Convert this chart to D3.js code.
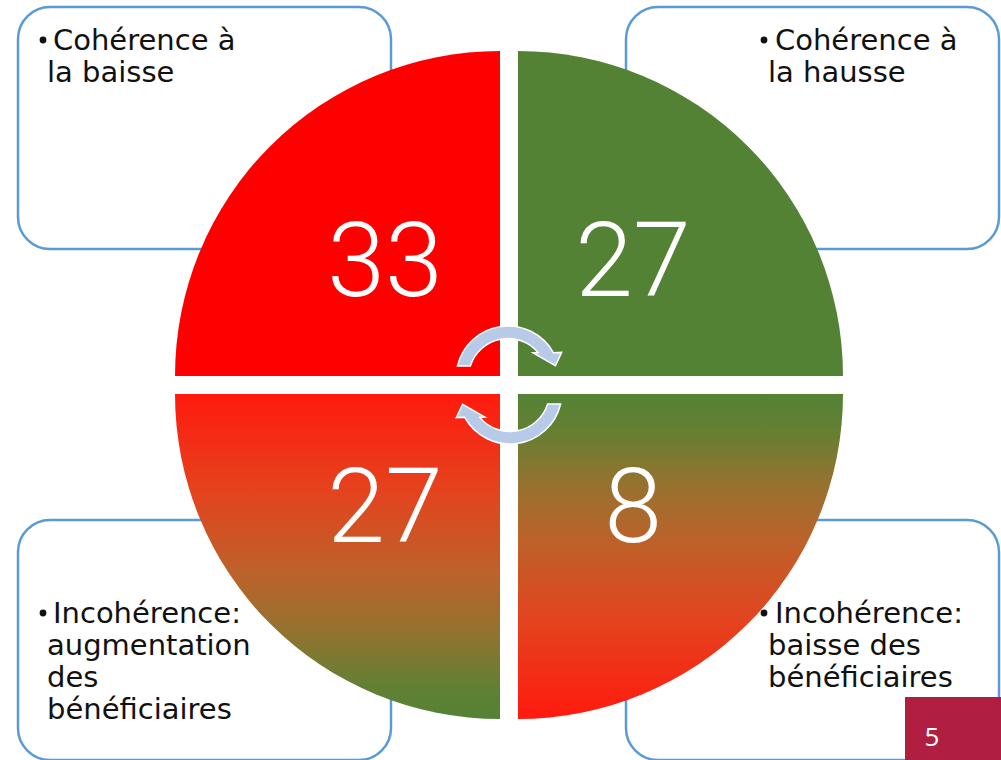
<!DOCTYPE html>
<html>
<head>
<meta charset="utf-8">
<script src="https://cdn.jsdelivr.net/npm/d3@7"></script>
<style>
  html, body { margin: 0; padding: 0; background: #ffffff; }
  svg { display: block; }
</style>
</head>
<body>
<svg id="chart" width="1001" height="760"></svg>
<script>
// Four outcome quadrants: top-left, top-right, bottom-left, bottom-right
const quadrantKeys = ["coh-baisse", "coh-hausse", "incoh-augmentation", "incoh-baisse"];
const quadrantCounts = [33, 27, 27, 8];
const quadrantLabels = [
  ["Cohérence à", "la baisse"],
  ["Cohérence à", "la hausse"],
  ["Incohérence:", "augmentation", "des", "bénéficiaires"],
  ["Incohérence:", "baisse des", "bénéficiaires"]
];
const quadrantFills = ["#ff0000", "#548235", "url(#grad-red-green)", "url(#grad-green-red)"];
const slideNumber = "5";

// Colour stops running from the red end to the green end of the lower quadrants
const gradientStops = [
  [0.00, "#ff1a0e"],
  [0.30, "#e4431e"],
  [0.55, "#bc622a"],
  [0.72, "#96722f"],
  [0.90, "#628034"],
  [1.00, "#548235"]
];

const svg = d3.select("#chart");
const W = 1001, H = 760;

// Layout: centre of the disc, gap between quadrants, quadrant radius
const cx = 509, cy = 385, gap = 18, R = 325;
const colX = d3.scaleOrdinal().domain([0, 1]).range([cx - gap / 2, cx + gap / 2]);
const rowY = d3.scaleOrdinal().domain([0, 1]).range([cy - gap / 2, cy + gap / 2]);
const dirX = d3.scaleOrdinal().domain([0, 1]).range([-1, 1]);
const dirY = d3.scaleOrdinal().domain([0, 1]).range([-1, 1]);

const defs = svg.append("defs");
function addGradient(id, stops) {
  const g = defs.append("linearGradient").attr("id", id)
    .attr("x1", 0).attr("y1", 0).attr("x2", 0).attr("y2", 1);
  g.selectAll("stop").data(stops).join("stop")
    .attr("offset", d => d[0]).attr("stop-color", d => d[1]);
}
addGradient("grad-red-green", gradientStops);
addGradient("grad-green-red", gradientStops.map(d => [1 - d[0], d[1]]).reverse());

const quads = quadrantKeys.map((key, i) => ({
  key, i,
  col: i % 2, row: Math.floor(i / 2),
  count: quadrantCounts[i],
  lines: quadrantLabels[i],
  fill: quadrantFills[i]
}));

// Rounded text boxes behind the disc
const boxX = d3.scaleOrdinal().domain([0, 1]).range([18, 626]);
const boxY = d3.scaleOrdinal().domain([0, 1]).range([7, 520]);
const boxW = 373, boxHs = [242, 240];

const boxes = svg.append("g").attr("class", "boxes");
boxes.selectAll("rect").data(quads).join("rect")
  .attr("x", d => boxX(d.col))
  .attr("y", d => boxY(d.row))
  .attr("width", boxW)
  .attr("height", d => boxHs[d.row])
  .attr("rx", 32).attr("ry", 32)
  .attr("fill", "#ffffff")
  .attr("stroke", "#5b9bd5")
  .attr("stroke-width", 2.5);

// Text inside each box, bullet + hanging indent
const bulletDX = [25, 138], textDX = [35, 149], contDX = [29, 142];
const firstBase = [43, 103], lineH = 32;
const textG = svg.append("g").attr("class", "labels");
quads.forEach(d => {
  const bx = boxX(d.col), by = boxY(d.row);
  const base0 = by + firstBase[d.row];
  textG.append("circle")
    .attr("cx", bx + bulletDX[d.col])
    .attr("cy", base0 - 10)
    .attr("r", 3.4)
    .attr("fill", "#111111");
  const t = textG.append("text")
    .attr("font-family", "'DejaVu Sans', sans-serif")
    .attr("font-size", 29)
    .attr("fill", "#111111");
  d.lines.forEach((line, j) => {
    t.append("tspan")
      .attr("x", bx + (j === 0 ? textDX[d.col] : contDX[d.col]))
      .attr("y", base0 + j * lineH)
      .text(line);
  });
});

// Quarter discs
function quarterPath(d) {
  const x0 = colX(d.col), y0 = rowY(d.row);
  const sx = dirX(d.col), sy = dirY(d.row);
  const p = d3.path();
  p.moveTo(x0, y0);
  p.lineTo(x0 + sx * R, y0);
  // start angle along the horizontal edge, end along the vertical edge
  const a0 = Math.atan2(0, sx);
  const a1 = Math.atan2(sy, 0);
  p.arc(x0, y0, R, a0, a1, sx * sy > 0 ? false : true);
  p.closePath();
  return p.toString();
}
const disc = svg.append("g").attr("class", "disc");
disc.selectAll("path").data(quads).join("path")
  .attr("d", quarterPath)
  .attr("fill", d => d.fill);

// Counts
disc.selectAll("text").data(quads).join("text")
  .attr("x", d => colX(d.col) + dirX(d.col) * 115)
  .attr("y", d => rowY(d.row) + dirY(d.row) * (d.row === 0 ? 116 : 112))
  .attr("text-anchor", "middle")
  .attr("dominant-baseline", "central")
  .attr("font-family", "Roboto, 'Open Sans', sans-serif")
  .attr("font-weight", 300)
  .attr("font-size", 104)
  .attr("fill", "#ffffff")
  .text(d => d.count);

// Circular arrows in the middle (upper one, then the same shape turned half a turn)
const acx = 508, acy = 378, rOut = 52, rIn = 39.5;
const rad = a => a * Math.PI / 180;
const pol = (r, a) => [acx + r * Math.cos(rad(a)), acy + r * Math.sin(rad(a))];
function arrowPath() {
  const p = d3.path();
  const start = pol(rOut, 193.3);
  p.moveTo(start[0], start[1]);
  p.arc(acx, acy, rOut, rad(193.3), rad(331), false);
  const wingOut = pol(59.5, -25.5), tip = pol(49, -14.5), wingIn = pol(35.5, -45);
  p.lineTo(wingOut[0], wingOut[1]);
  p.lineTo(tip[0], tip[1]);
  p.lineTo(wingIn[0], wingIn[1]);
  const innerEnd = pol(rIn, 320);
  p.lineTo(innerEnd[0], innerEnd[1]);
  p.arc(acx, acy, rIn, rad(320), rad(197.7), true);
  p.closePath();
  return p.toString();
}
const arrows = svg.append("g").attr("class", "cycle-arrows");
arrows.selectAll("path").data([0, 180]).join("path")
  .attr("d", arrowPath())
  .attr("transform", d => `rotate(${d},${cx},${cy})`)
  .attr("fill", "#b7cae8")
  .attr("stroke", "#ffffff")
  .attr("stroke-width", 1.5)
  .attr("stroke-linejoin", "miter");

// Slide number tag
svg.append("rect")
  .attr("x", 905).attr("y", 697)
  .attr("width", W - 905).attr("height", H - 697)
  .attr("fill", "#b01f41");
svg.append("text")
  .attr("x", 932).attr("y", 746)
  .attr("text-anchor", "middle")
  .attr("font-family", "'Open Sans', sans-serif")
  .attr("font-size", 26)
  .attr("fill", "#ffffff")
  .text(slideNumber);
</script>
</body>
</html>
